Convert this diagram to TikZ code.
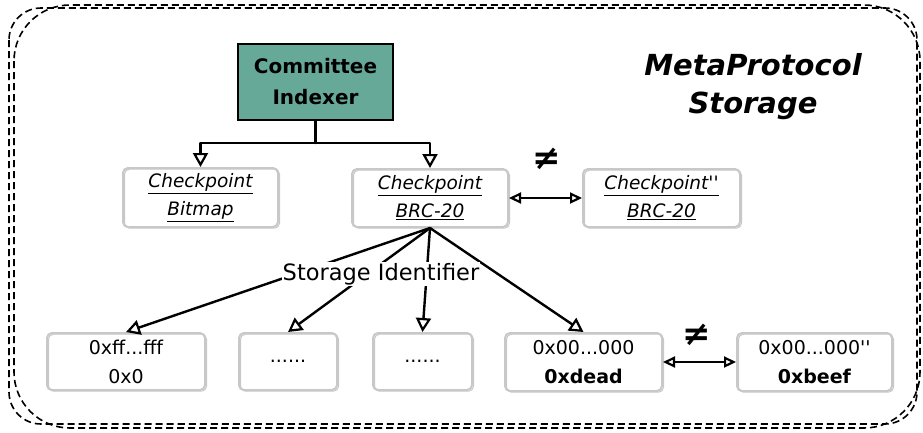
\documentclass[tikz,border=0pt]{standalone}
\usepackage{fontspec}
\setmainfont{DejaVu Sans}
\usetikzlibrary{arrows.meta}
\definecolor{boxgray}{HTML}{C8C8C8}
\definecolor{teal1}{HTML}{67A999}
\tikzset{
  sketchbox/.style={draw=boxgray, line width=2pt, rounded corners=5pt, align=center, inner sep=2pt,
    postaction={draw=boxgray, line width=1pt, rounded corners=6pt, transform canvas={xshift=1.5pt,yshift=-1.2pt}}},
  cibox/.style={draw=black, line width=2.4pt, fill=teal1, align=center, inner sep=2pt},
  conn/.style={draw=black, line width=2.4pt, line cap=round, line join=round},
  arr/.style={conn, -{Triangle[open, length=14pt, width=15pt, line width=2.2pt]}},
  darr/.style={conn, {Triangle[open, length=12pt, width=11pt, line width=2.2pt]}-{Triangle[open, length=12pt, width=11pt, line width=2.2pt]}},
  ckfont/.style={font=\fontsize{18.5}{28}\selectfont\itshape},
  hexfont/.style={font=\fontsize{19}{29}\selectfont},
  outer/.style={draw=black, line width=1.6pt, dash pattern=on 7pt off 4pt},
}
\begin{document}
\begin{tikzpicture}[x=1pt, y=-1pt]
\useasboundingbox (0,0) rectangle (923,432);
% outer dashed frame
\draw[outer, rounded corners=32pt] (9,8) rectangle (917,424);
\draw[outer, rounded corners=56pt] (14,5) rectangle (920,428);

% title
\node[font=\fontsize{29}{38}\selectfont\bfseries\itshape, align=center] (title) at (753,87) {MetaProtocol\\Storage};

% committee indexer
\node[cibox, minimum width=155pt, minimum height=76pt, font=\fontsize{20}{31}\selectfont\bfseries] (ci) at (315.5,82) {Committee\\Indexer};

% checkpoints
\node[sketchbox, ckfont, minimum width=155pt, minimum height=59pt] (cb) at (200.5,197.5) {\underline{Checkpoint}\\\underline{Bitmap}};
\node[sketchbox, ckfont, minimum width=156pt, minimum height=58pt] (cr) at (430,198) {\underline{Checkpoint}\\\underline{BRC-20}};
\node[sketchbox, ckfont, minimum width=157pt, minimum height=58pt] (cr2) at (661.5,198) {\underline{Checkpoint\textquotesingle\textquotesingle}\\\underline{BRC-20}};

% bottom boxes
\node[sketchbox, hexfont, minimum width=158pt, minimum height=57pt] (b1) at (126,361.5) {0xff...fff\\0x0};
\node[sketchbox, hexfont, minimum width=98pt, minimum height=57pt] (b2) at (288,361.5) {......};
\node[sketchbox, hexfont, minimum width=99pt, minimum height=57pt] (b3) at (422.5,361.5) {......};
\node[sketchbox, hexfont, minimum width=157pt, minimum height=58pt] (b4) at (583.5,362) {0x00...000\\\textbf{0xdead}};
\node[sketchbox, hexfont, minimum width=155pt, minimum height=58pt] (b5) at (814.5,362) {0x00...000\textquotesingle\textquotesingle\\\textbf{0xbeef}};

% committee connectors
\coordinate (hb) at (0,143);
\draw[conn] (ci.south) -- (ci.south |- hb);
\draw[arr] (ci.south |- hb) -| (cb.north);
\draw[arr] (ci.south |- hb) -| (cr.north);

% fan out
\draw[arr] (cr.south) -- (b1.north);
\draw[arr] (cr.south) -- (b2.north);
\draw[arr] (cr.south) -- (b3.north);
\draw[arr] (cr.south) -- (b4.north);
\node[fill=white, inner sep=1pt, font=\fontsize{22.5}{26}\selectfont] (sid) at (381,274) {Storage Identifier};

% inequalities
\draw[darr] (cr.east) -- (cr2.west);
\node[font=\fontsize{34}{36}\selectfont\bfseries] (ne1) at (547,159) {≠};
\draw[darr] (b4.east) -- (b5.west);
\node[font=\fontsize{34}{36}\selectfont\bfseries] (ne2) at (697,335) {≠};
\end{tikzpicture}
\end{document}
